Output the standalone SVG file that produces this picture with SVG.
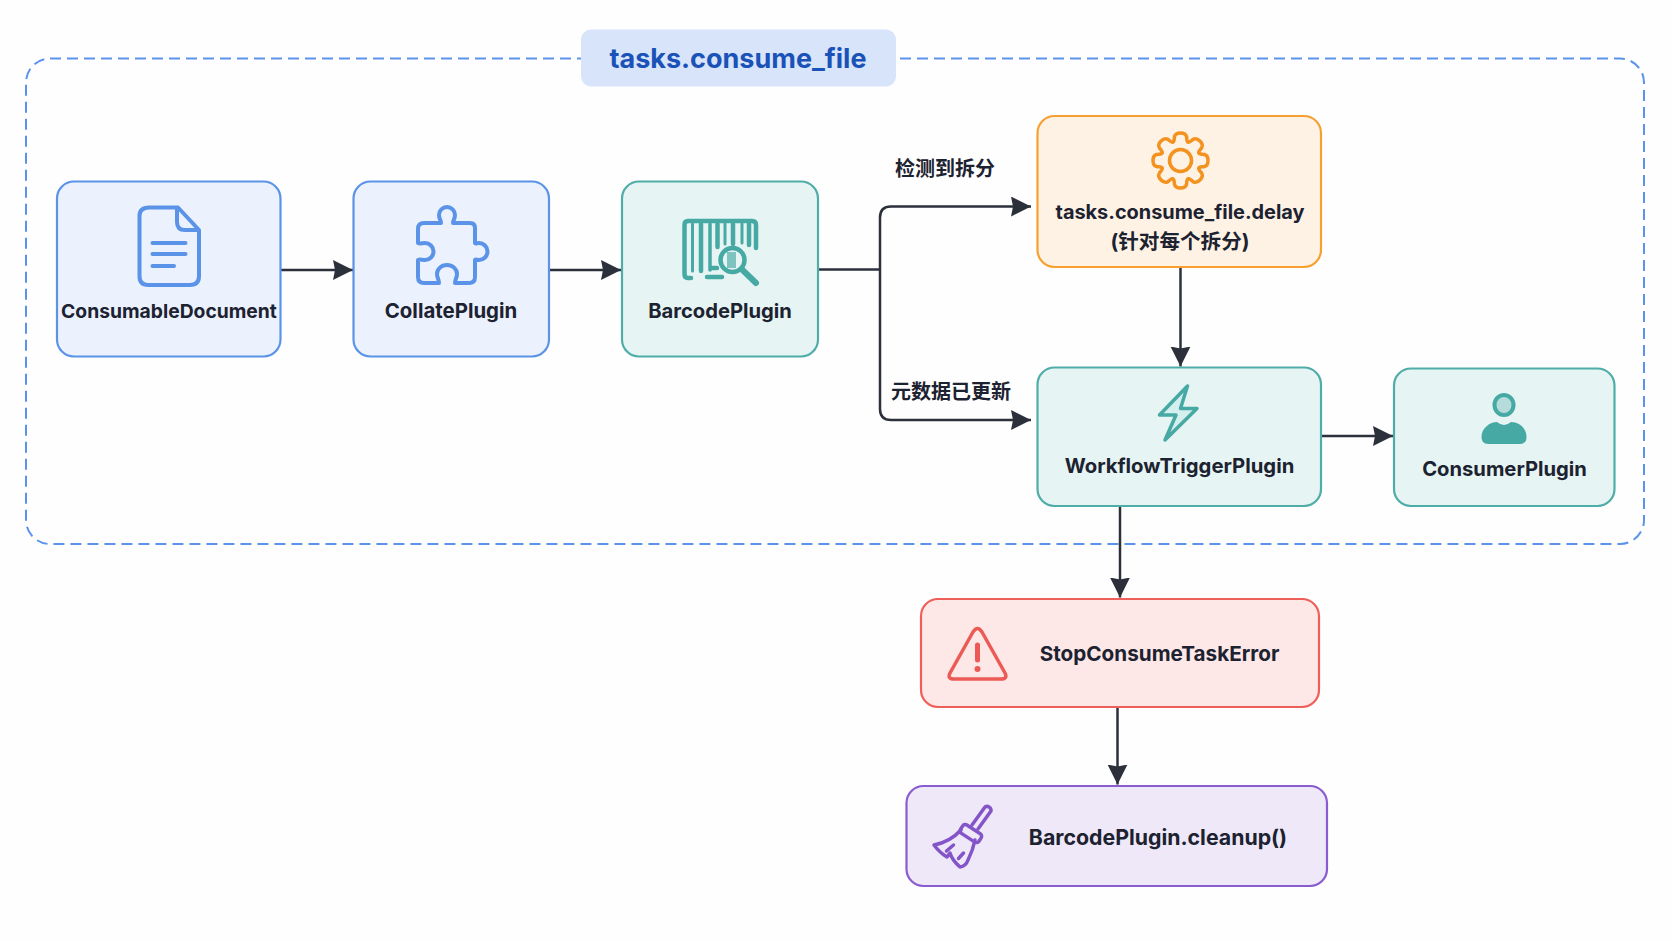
<svg xmlns="http://www.w3.org/2000/svg" width="1672" height="941" viewBox="0 0 1672 941">
<style>
.n{stroke-width:2.200}
.blue{fill:#ebf1fd;stroke:#5a93e8}
.teal{fill:#e6f4f3;stroke:#4fada8}
.orange{fill:#fef2e5;stroke:#f7a030}
.red{fill:#fde8e7;stroke:#ef5f5a}
.purple{fill:#efe8f8;stroke:#8a5ccf}
text{font-family:"Inter","Noto Sans CJK SC",sans-serif;font-weight:650;fill:#1c2230;text-anchor:middle}
.cjk{font-family:"Noto Sans CJK SC",sans-serif;font-weight:700;font-size:20px}
.c{fill:none;stroke:#2b303b;stroke-width:2.500;stroke-linejoin:round}
.i{fill:none;stroke-linecap:round;stroke-linejoin:round}
</style>
<defs>
<marker id="a" markerUnits="userSpaceOnUse" markerWidth="22" markerHeight="22" refX="20" refY="10" orient="auto"><path d="M0 0L20 10L0 20L2 10Z" fill="#2b303b"/></marker>
<path id="t" d="M-7.650 -18.480C-6 -19 -6.500 -21 -6 -24Q-5 -27.500 0 -27.500Q5 -27.500 6 -24C6.500 -21 6 -19 7.650 -18.480"/>
</defs>
<rect width="1672" height="941" fill="#fefefe"/>
<rect id="frame" x="26" y="58.500" width="1618" height="485.500" rx="24" fill="none" stroke="#5b93ec" stroke-width="2" stroke-dasharray="11 6"/>
<g id="title"><rect x="581" y="29.500" width="315" height="57" rx="10" fill="#d7e4fa"/><text x="738" y="68" style="font-size:27px;fill:#1a52b8">tasks.consume_file</text></g>
<g id="connectors">
<path class="c" d="M280.500 270H353" marker-end="url(#a)"/>
<path class="c" d="M549 270H621" marker-end="url(#a)"/>
<path class="c" d="M818 269.500H880"/>
<path class="c" d="M880 270V217.500Q880 206.500 891 206.500H1031" marker-end="url(#a)"/>
<path class="c" d="M880 270V409Q880 420 891 420H1031" marker-end="url(#a)"/>
<path class="c" d="M1180.500 267.500V366.500" marker-end="url(#a)"/>
<path class="c" d="M1321 436H1393" marker-end="url(#a)"/>
<path class="c" d="M1120 506V597.500" marker-end="url(#a)"/>
<path class="c" d="M1117.500 707V784.500" marker-end="url(#a)"/>
</g>
<text class="cjk" x="945" y="175.500">检测到拆分</text>
<text class="cjk" x="951" y="399">元数据已更新</text>
<g id="consumable"><rect class="n blue" x="57" y="181.500" width="223.500" height="175" rx="17"/>
<g class="i" stroke="#5a93e8" stroke-width="4"><path d="M149 207.500H178L199 230V276Q199 285 190 285H148Q139.500 285 139.500 276V216Q139.500 207.500 149 207.500Z"/><path d="M177 208V222Q177 230 185 230H198M152.500 243H185.500M152.500 254H185.500M152.500 266H174"/></g>
<text x="169" y="318" style="font-size:19.300px">ConsumableDocument</text></g>
<g id="collate"><rect class="n blue" x="353.500" y="181.500" width="195.500" height="175" rx="17"/>
<path class="i" stroke="#5a93e8" stroke-width="4" d="M424 223H441C441 220 439 219 439 215A8 8 0 0 1 455 215C455 219 453 220 453 223H470Q475 223 475 228V243C476 244 477 243 479 243A8.500 8.500 0 0 1 479 260C477 260 476 259 475 260V277Q475 283 469 283H455C455 279 457 278 457 274A10 9 0 0 0 437 274C437 278 439 279 439 283H424Q418 283 418 277V260C420 259 422 260 425 260A8.500 8.500 0 0 0 425 243C422 243 420 244 418 243V229Q418 223 424 223Z"/>
<text x="451" y="318" style="font-size:20.400px">CollatePlugin</text></g>
<g id="barcode"><rect class="n teal" x="622" y="181.500" width="196" height="175" rx="17"/>
<g class="i" stroke="#46a9a4" stroke-width="4.500"><path d="M691 278H688Q684.500 278 684.500 274V225Q684.500 221 688 221H752Q756 221 756 225V248"/><path d="M692.500 224V271" stroke-width="3"/><path d="M701 224V271"/><path d="M710 224V270" stroke-width="3.500"/><path d="M717.500 224V247"/><path d="M725 224V244" stroke-width="3"/><path d="M733 224V244"/><path d="M742 224V243" stroke-width="3"/><path d="M749 224V245"/><path d="M707 277H722"/><path d="M711 268H717"/><circle cx="732.500" cy="260" r="12"/><path d="M741.500 269L756 283" stroke-width="6"/><path d="M731.500 252V268" stroke-width="9" stroke-linecap="butt" opacity=".65"/></g>
<text x="720" y="318" style="font-size:20.200px">BarcodePlugin</text></g>
<g id="delay"><rect class="n orange" x="1037.500" y="116" width="283.500" height="151" rx="17"/>
<g class="i" stroke="#f3921e" stroke-width="3.500" transform="translate(1180.500 160.500)"><circle r="11"/><use href="#t"/><use href="#t" transform="rotate(45)"/><use href="#t" transform="rotate(90)"/><use href="#t" transform="rotate(135)"/><use href="#t" transform="rotate(180)"/><use href="#t" transform="rotate(225)"/><use href="#t" transform="rotate(270)"/><use href="#t" transform="rotate(315)"/></g>
<text x="1180" y="219" style="font-size:19.900px">tasks.consume_file.delay</text>
<text x="1180" y="248.500" style="font-size:20.600px">(针对每个拆分)</text></g>
<g id="workflow"><rect class="n teal" x="1037.500" y="367.500" width="283.500" height="138.500" rx="17"/>
<path class="i" stroke="#46a9a4" stroke-width="3.500" style="fill:#d5eeee" d="M1187.500 386L1159.500 415H1176L1165 440L1197 408.500H1180.500Z"/>
<text x="1179.500" y="472.500" style="font-size:20.300px">WorkflowTriggerPlugin</text></g>
<g id="consumer"><rect class="n teal" x="1394" y="368.500" width="220.500" height="137.500" rx="17"/>
<ellipse cx="1504" cy="405" rx="9.500" ry="10" fill="#b5dcda" stroke="#46a9a4" stroke-width="4"/>
<path fill="#46a9a4" d="M1481.500 437C1481.500 428 1490 422 1497 422Q1504 428 1511 422C1519 422 1526.500 428 1526.500 437Q1526.500 444 1520 444H1488Q1481.500 444 1481.500 437Z"/>
<text x="1504.500" y="476" style="font-size:20.200px">ConsumerPlugin</text></g>
<g id="stop"><rect class="n red" x="921" y="599" width="398" height="108" rx="17"/>
<path class="i" stroke="#ec5a55" stroke-width="3.500" d="M973 632Q977.500 625 982 632L1005 673Q1008 679 1001 679H954Q947 679 950 673Z"/>
<path class="i" stroke="#ec5a55" stroke-width="5" d="M977.500 645V660"/><circle cx="977.500" cy="669" r="3" fill="#ec5a55"/>
<text x="1159.500" y="660.500" style="font-size:20.700px">StopConsumeTaskError</text></g>
<g id="cleanup"><rect class="n purple" x="906.500" y="786" width="420.500" height="100" rx="17"/>
<g class="i" stroke="#8455c8" stroke-width="3.500"><path d="M985 807L972 825M991 811L978 829M985 807A4 4 0 0 1 991 811"/><rect x="-10" y="-5" width="22" height="10" rx="3" transform="translate(970 833) rotate(33)"/><path d="M961 830Q950 842 934 845Q940 853 947 857L950 853Q952 860 960 867Q966 866 968 860Q973 850 975 840M946.500 851L953.500 845M958.500 858.500L963.500 853"/></g>
<text x="1158" y="845" style="font-size:21.300px">BarcodePlugin.cleanup()</text></g>
</svg>
